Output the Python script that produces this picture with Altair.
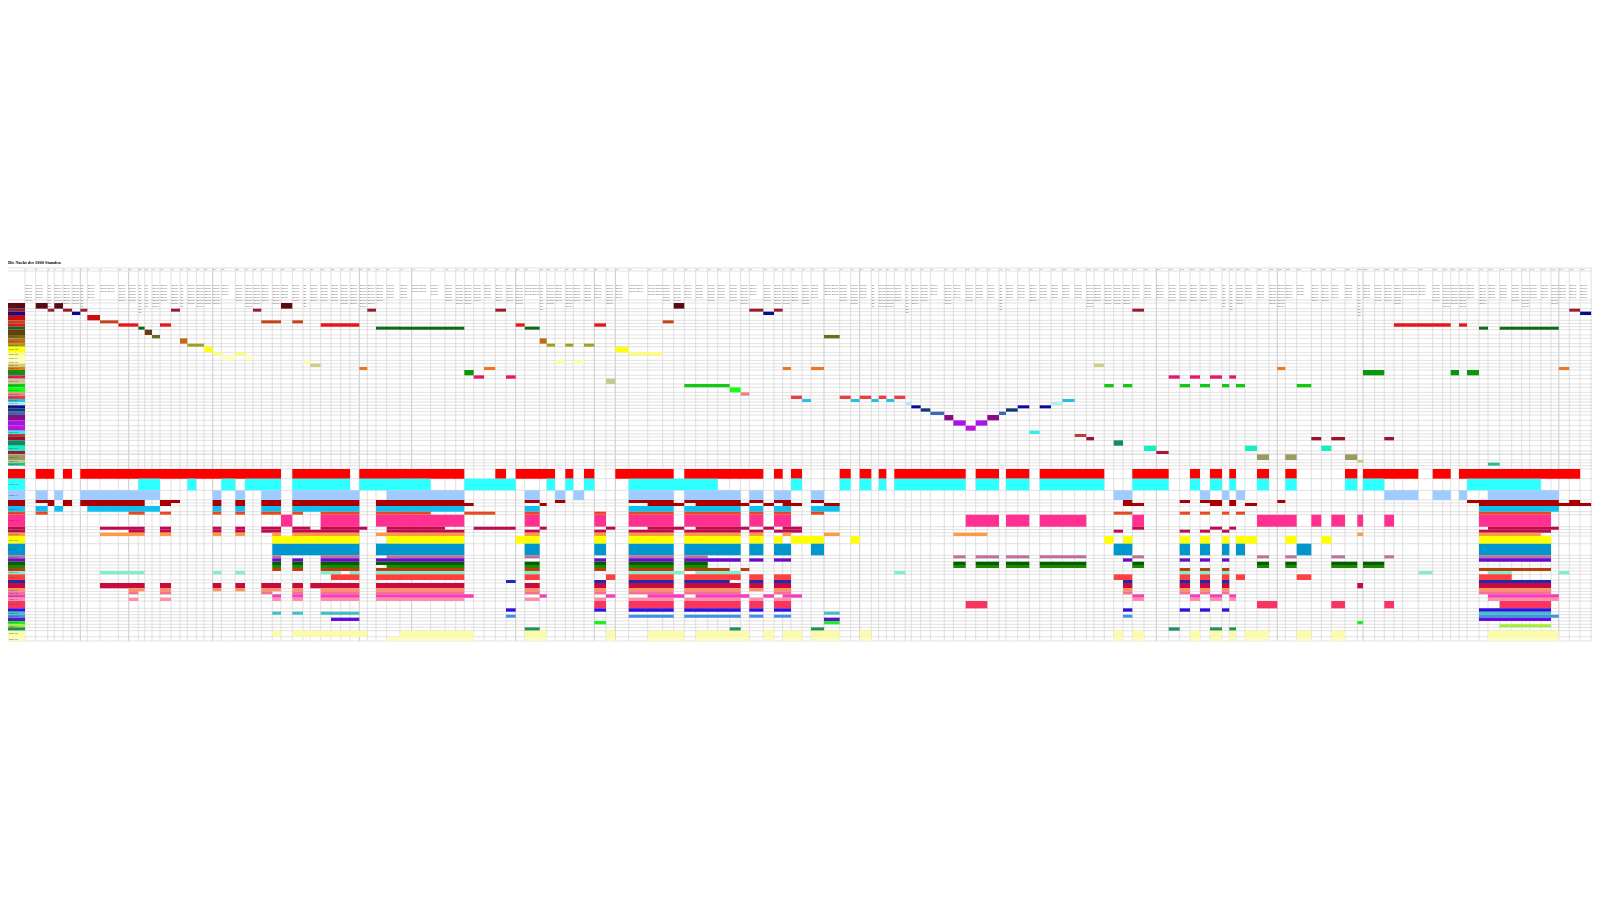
import altair as alt
import pandas as pd

TITLE = "Die Nacht der 1000 Stunden"

# column (scene) boundaries along the timeline
scene_edges = [25, 35.7, 47.7, 54.3, 63, 72, 80.3, 87.3, 100, 118.3, 128.7, 138.3, 144.7, 152, 160, 171, 180, 187.3,
               196.3, 204, 212.7, 221.3, 235.3, 245, 253, 261.3, 272.3, 281, 292.3, 303, 310.3, 320.7, 331, 340.7,
               350, 359.3, 367.3, 376, 386.7, 400, 411.7, 430.7, 445, 455.7, 464.3, 473.7, 484, 495.3, 506, 515.7,
               524.7, 539.7, 546.7, 555, 565.3, 573.3, 584, 594.3, 606, 615.3, 628.7, 647.7, 662.7, 673.7, 684.3,
               695.7, 707.7, 717.7, 729.7, 740.7, 749.3, 763.3, 774, 782.7, 791, 802, 811, 824, 839.7, 850.7, 859.7,
               871.3, 878.7, 886.3, 894.3, 905.3, 911.3, 920.7, 930.3, 944.3, 953.3, 965.7, 975.7, 987.3, 999, 1006,
               1017.7, 1029.3, 1039.7, 1051, 1062.3, 1074.7, 1086.3, 1094, 1104.3, 1113.7, 1123, 1132.3, 1144, 1156.3,
               1168.7, 1179.7, 1190, 1200, 1210, 1222, 1229.3, 1236, 1245, 1257, 1269, 1277.3, 1285.3, 1296.7, 1311.3,
               1321.3, 1331.3, 1345, 1357.3, 1363, 1374.7, 1384.3, 1394, 1402.7, 1418.3, 1432.7, 1442.7, 1450.7, 1459,
               1467, 1479, 1488, 1499.7, 1511.7, 1521.7, 1529.7, 1541, 1552.7, 1561.7, 1573.7, 1586.3, 1599]
major_edges = [80.3, 128.7, 212.7, 359.3, 411.7, 515.7, 594.3, 615.3, 824, 859.7, 1156.3, 1277.3, 1363, 1561.7]

upper_bounds = [144,161,170,180,196,205,215,224,240,250,266,275,292,301,316,326,336,345,361,371,387,397,412,422,432,
                441,451,460,470,480,496,512,527,537,546,556,572,588,597]
upper_colors = ["#5c0a12","#9b1c2e","#0a0a8c","#cc0c0c","#c8431a","#e8161c","#0e6a16","#6b3c12","#6d6d1e","#c46a10",
                "#a0a01c","#ffff14","#ffff70","#ffffc0","#ffffa8","#cfcf80","#f0771e","#0a960a","#e8166c","#c8c890",
                "#14c814","#14ff14","#f08080","#e84040","#28c0e0","#b0f0f0","#0a0aa0","#123a6e","#3c6cb8","#8a0a8a",
                "#aa14e8","#c014e0","#30f0f0","#c03a3a","#a01030","#108c64","#14f0c0","#b01040"]
u = [
 {0:[107,143,163,189,843,877],400:[821,853]},
 {0:[143,163,189,216,241,262,513,540,759,784,1102,1128],400:[286,318,1048,1090,1122,1148],800:[997,1032],1200:[1121,1159]},
 {0:[216,241],400:[1090,1122],1200:[1160,1197]},
 {0:[262,300]},
 {0:[300,355,784,843,877,909],400:[788,821]},
 {0:[355,415,480,513,962,1078],400:[347,374,583,618],1200:[582,752,777,801]},
 {0:[415,434,1128,1200],400:[0,193,374,419],1200:[837,864,899,1085]},
 {0:[434,456]},
 {0:[456,480],800:[72,119]},
 {0:[540,562],400:[419,440]},
 {0:[562,612],400:[440,465,496,520,552,583]},
 {0:[612,638],400:[646,686]},
 {0:[638,664,706,735],400:[686,788]},
 {0:[664,706,735,759]},
 {0:[909,931],400:[465,496,520,552]},
 {0:[931,962],800:[882,913]},
 {0:[1078,1102],400:[252,286,1148,1173],800:[33,72],1200:[231,256,1085,1121]},
 {400:[193,221],1200:[489,553,752,777,801,837]},
 {400:[221,252,318,347],800:[1106,1139,1170,1200],1200:[30,66,88,108]},
 {400:[618,646]},
 {400:[853,989],800:[913,941,969,997,1139,1170],1200:[0,30,66,88,108,135,290,334]},
 {400:[989,1022]},
 {400:[1022,1048]},
 {400:[1173,1200],800:[0,6,119,152,179,214,236,259,283,316]},
 {800:[6,33,152,179,214,236,259,283,787,824]},
 {800:[316,334,753,787]},
 {800:[334,362,653,688,719,753]},
 {800:[362,391,618,653]},
 {800:[391,433,597,618]},
 {800:[433,460,562,597]},
 {800:[460,497,527,562]},
 {800:[497,527]},
 {800:[688,719]},
 {800:[824,859]},
 {800:[859,882],1200:[334,364,394,435,552,582]},
 {800:[941,969]},
 {800:[1032,1069],1200:[135,171,364,394]},
 {800:[1069,1106]},
]

lower_bounds = [13,30,38,47]
lower_colors_top = ["#9a9a60","#c8c880","#20c090"]
t = [
 {1200:[171,207,256,290,435,472]},
 {1200:[472,489]},
 {1200:[864,899]},
]

main_bounds = [57,86,121,150,159,168,185,194,230,239,248,258,281,316,325,335,345,354,363,373,390,399,415,424,433,443,
               453,475,485,494,503,513,523,532,542,560,573]
main_colors = ["#ff0000","#2effff","#9fcbff","#a80000","#a80000","#10c0f0","#e84820","#ff3090","#c00a50","#c00a50",
               "#ff9a40","#ffff00","#0098cc","#c0709c","#6a0ad0","#006000","#208800","#b84010","#80f0c8","#ff4040",
               "#1e2ab0","#c80a3c","#ff9060","#f87090","#f83cc0","#ff90a8","#f83460","#3010e0","#40c0c0","#4090e8",
               "#6010d8","#20f020","#a0f030","#209060","#fbfba8","#fcfcc0"]
m = [
 {0:[107,163,189,216,241,843,877,1048,1078,1200],400:[0,193,286,318,347,465,496,520,552,583,646,821,853,1090,1122,1148,1173,1200],
  800:[0,6,119,152,179,214,236,259,283,497,527,597,618,688,719,914,997,1106,1170,1200],1200:[30,66,88,108,171,207,256,290,435,472,489,655,698,752,777,1159]},
 {0:[415,480,562,589,664,706,735,843,877,1050,1078,1200],400:[0,92,193,347,440,465,496,520,552,583,686,953,1173,1200],
  800:[0,6,119,152,179,214,236,259,283,497,527,597,618,688,719,914,997,1106,1170,1200],1200:[30,66,88,108,171,207,256,290,435,472,489,552,801,1023]},
 {0:[107,143,163,189,241,480,638,664,706,735,784,843,877,1078,1160,1200],400:[0,193,374,419,465,496,520,552,686,821,853,1022,1048,1090,1122,1173],
  800:[33,72,941,997],1200:[0,30,66,88,108,135,552,655,698,752,777,801,864,1085]},
 {0:[107,163,189,216,241,434,480,540,638,664,706,735,784,843,877,1078,1128,1200],400:[0,193,374,419,465,496,686,821,853,1022,1048,1090,1122,1173],
  800:[33,72,969,997,1139,1170],1200:[0,66,88,108,232,256,801,1085,1121,1159]},
 {0:[143,163,189,216,241,434,480,513,638,664,706,735,784,843,877,1078,1128,1200],400:[0,221,419,440,743,853,887,1048,1090,1122,1148,1200],
  800:[0,6,72,119,969,1032],1200:[30,66,88,108,135,171,837,1197]},
 {0:[107,143,163,189,262,480,638,664,706,735,784,843,877,1078,1128,1200],400:[0,193,374,419,686,821,853,1022,1048,1090,1122,1173],
  800:[33,119],1200:[837,1085]},
 {0:[107,143,386,434,480,513,638,664,706,735,784,843,877,909,962,1078,1128,1200],400:[0,92,193,286,374,419,583,618,686,821,853,1022,1048,1090,1122,1173],
  800:[33,72,941,997,1139,1170],1200:[0,30,66,88,108,135,837,1058]},
 {0:[843,877,962,1078,1128,1200],400:[0,193,374,419,583,618,686,821,853,1022,1048,1090,1122,1173],
  800:[497,597,618,688,719,859,997,1032],1200:[171,290,334,364,394,435,472,489,552,582,837,1058]},
 {0:[300,434,480,513,638,664,706,735,784,843,877,931,962,1102,1160,1200],400:[0,133,221,347,419,440,618,646,743,853,887,1048,1090,1122,1148,1200],
  800:[0,6,997,1032],1200:[30,66,88,108,864,1085]},
 {0:[386,434,480,513,638,664,706,735,784,843,877,1078,1160,1200],400:[0,193,374,419,583,618,686,821,853,1022,1048,1090,1122,1200],
  800:[0,6,941,969,1139,1170],1200:[0,30,66,88,837,1058]},
 {0:[300,434,480,513,638,664,706,735,817,843,877,1078,1128,1200],400:[0,193,374,419,583,618,686,821,853,1022,1048,1090,1148,1173],
  800:[72,119,460,562],1200:[472,489,837,1023]},
 {0:[817,1078,1160,1200],400:[0,193,347,419,583,618,686,821,853,1022,1048,1090,1122,1148,1173,1200],
  800:[0,72,152,179,914,941,969,997,1139,1170],1200:[0,30,66,88,108,171,256,290,364,394,837,1058]},
 {0:[817,1078,1128,1200],400:[0,193,374,419,583,618,686,821,853,1022,1048,1090,1122,1173],
  800:[33,72,941,997,1139,1170],1200:[0,30,66,88,108,135,290,334,837,1058]},
 {0:[817,843,962,1078,1158,1200],400:[0,193,374,419,686,821,853,921],
  800:[460,497,527,597,618,688,719,859,997,1032],1200:[171,207,256,290,394,435,552,582,837,1058]},
 {0:[817,843,877,909,962,1078,1128,1200],400:[0,193,583,618,686,821,853,1022,1048,1090,1122,1173],
  800:[969,997,1139,1170],1200:[0,30,66,88,837,1058]},
 {0:[817,843,877,909,962,1078,1128,1200],400:[0,193,374,419,583,618,686,821,853,921],
  800:[460,497,527,597,618,688,719,859,997,1032],1200:[171,207,256,290,394,472,489,552]},
 {0:[817,843,877,909,962,1078,1158,1200],400:[0,193,374,419,583,618,686,821,853,921],
  800:[460,497,527,597,618,688,719,859,997,1032],1200:[171,207,256,290,394,472,489,552]},
 {0:[817,843,877,909,962,1078,1128,1200],400:[0,193,374,419,583,618,686,821,853,989,1022,1048],
  800:[1139,1170],1200:[0,30,66,88,837,1058]},
 {0:[300,434,638,664,706,735,962,1022,1050,1078,1128,1200],400:[0,193,374,419,686,853,887,1022],
  800:[283,316,1139,1170],1200:[0,30,66,88,655,698,864,935,1085,1121]},
 {0:[993,1078,1128,1200],400:[0,193,374,419,618,646,686,821,853,1022,1048,1090,1122,1173],
  800:[941,997,1139,1170],1200:[0,30,66,88,108,135,290,334,837,935]},
 {400:[318,347,583,618,686,821,853,989,1048,1090,1122,1173],800:[969,997,1139,1170],1200:[0,30,66,88,837,1058]},
 {0:[300,434,480,513,638,664,706,735,784,843,877,909,931,1078,1128,1200],400:[0,193,374,419,583,618,686,821,853,1022,1048,1090,1122,1173],
  800:[969,997,1139,1170],1200:[0,30,66,88,472,489,837,1058]},
 {0:[386,434,480,513,638,664,706,735,784,843,877,909,962,1078,1128,1200],400:[0,193,374,419,583,618,686,821,853,1022,1048,1090,1122,1173],
  800:[969,997,1139,1170],1200:[0,30,66,88,837,1058]},
 {0:[386,415,480,513,784,817,877,909,962,1078,1128,1200],400:[0,193,374,419,583,618,686,821,853,1022,1122,1173],
  800:[969,997,1139,1170],1200:[0,30,66,88,837,1058]},
 {0:[817,843,877,909,962,1078,1128,1200],400:[0,221,419,440,618,646,743,853,887,1048,1090,1122,1148,1200],
  800:[0,6,997,1032,1170,1200],1200:[30,66,88,108,864,1085]},
 {0:[386,415,480,513,817,843,877,909,962,1078,1128,1200],400:[0,193,374,419,583,618,686,821,853,1022,1048,1090,1122,1173],
  800:[997,1032,1170,1200],1200:[30,66,88,108,864,1085]},
 {400:[583,618,686,821,853,1022,1048,1090,1122,1173],800:[497,562],1200:[171,232,394,435,552,582,899,1058]},
 {400:[318,347,583,618,686,821,853,1022,1048,1090,1122,1173],800:[969,997,1139,1170],1200:[0,30,66,88,837,1058]},
 {0:[817,843,877,909,962,1078],800:[72,119],1200:[837,1058]},
 {400:[318,347,686,821,853,1022,1048,1090,1122,1173],800:[969,997],1200:[837,1085]},
 {0:[993,1078],800:[72,119],1200:[837,1058]},
 {400:[583,618],800:[72,119],1200:[472,489]},
 {1200:[899,1058]},
 {400:[374,419,989,1022],800:[33,72,1106,1139],1200:[30,66,88,108]},
 {0:[817,843,877,1102],400:[0,221,374,440,618,646,743,853,887,1048,1090,1122,1148,1200],
  800:[0,6,33,119,179,214,941,969,997,1032,1170,1200],1200:[30,66,88,108,135,207,290,334,394,435,864,1085]},
 {0:[1160,1200],400:[0,221,374,440,618,646,743,853,887,1048,1090,1122,1148,1200],
  800:[0,6,33,119,179,214,941,969,997,1032,1170,1200],1200:[30,66,88,108,135,207,290,334,394,435,864,1085]},
]

def snap(v):
    return min(scene_edges, key=lambda e: abs(e - v))

cells, rows = [], []
def add_block(base, bounds, colors, spans):
    for i, col in enumerate(colors):
        y0, y1 = base + bounds[i] / 3, base + bounds[i + 1] / 3
        n = len(rows) + 1
        rows.append(dict(y=y0, y2=y1, color=col, label=f"Rolle {n}", x=8.0, x2=25.0))
        for off, vals in spans[i].items():
            for a, b in zip(vals[0::2], vals[1::2]):
                cells.append(dict(x=snap(off + a / 3), x2=snap(off + b / 3), y=y0, y2=y1, color=col))

add_block(255, upper_bounds, upper_colors, u)
add_block(450, lower_bounds, lower_colors_top, t)
add_block(450, main_bounds, main_colors, m)

row_lines = sorted({round(r["y"], 2) for r in rows} | {round(r["y2"], 2) for r in rows} | {268.0, 271.0, 300.0, 303.0, 469.0})
h_df = pd.DataFrame({"y": row_lines, "x": 8.0, "x2": 1600.0})
v_df = pd.DataFrame({"x": scene_edges, "y": 268.0, "y2": 641.0})
v_df["major"] = v_df["x"].isin(major_edges)

hdr = []
for i, (a, b) in enumerate(zip(scene_edges[:-1], scene_edges[1:])):
    w = b - a
    k = max(3, min(11, round(62 / w)))
    per = max(1, int(w // 7.5))
    word = "Szene" if w >= 7.5 else "Sz."
    hdr.append(dict(x=a + 0.4, n=str(i + 1), txt="\n".join([" ".join([word] * per)] * k), ty=284.5, ny=269.6))
hdr_df = pd.DataFrame(hdr)

# the page leaves 1584 px for the chart: the timeline keeps true scale up to 1540
X = alt.Scale(domain=[8, 1540, 1600], range=[0, 1532, 1584], nice=False, zero=False)
Y = alt.Scale(domain=[708, 8], nice=False, zero=False)
x = alt.X("x:Q", scale=X, axis=None)
y = alt.Y("y:Q", scale=Y, axis=None)

hlines = alt.Chart(h_df).mark_rule(color="#d6d6d6", strokeWidth=0.7).encode(x=x, x2="x2:Q", y=y)
vlines = alt.Chart(v_df).mark_rule(strokeWidth=0.7).encode(
    x=x, y=y, y2="y2:Q",
    color=alt.condition("datum.major", alt.value("#b4b4b4"), alt.value("#d2d2d2")))
bars = alt.Chart(pd.DataFrame(cells)).mark_rect().encode(
    x=x, x2="x2:Q", y=y, y2="y2:Q", color=alt.Color("color:N", scale=None))
left = alt.Chart(pd.DataFrame(rows)).mark_rect().encode(
    x=x, x2="x2:Q", y=y, y2="y2:Q", color=alt.Color("color:N", scale=None))
left_txt = alt.Chart(pd.DataFrame(rows).assign(tx=9.0, ty=lambda d: (d.y + d.y2) / 2)).mark_text(
    fontSize=2.4, align="left", baseline="middle", color="#444444", font="Liberation Sans").encode(
    x=alt.X("tx:Q", scale=X, axis=None), y=alt.Y("ty:Q", scale=Y, axis=None), text="label:N")
hdr_txt = alt.Chart(hdr_df).mark_text(
    fontSize=2.4, lineHeight=3, lineBreak="\n", align="left", baseline="middle", color="#666666", font="Liberation Sans").encode(
    x=x, y=alt.Y("ty:Q", scale=Y, axis=None), text="txt:N")
num_txt = alt.Chart(hdr_df).mark_text(
    fontSize=2.4, align="left", baseline="middle", color="#777777", font="Liberation Sans").encode(
    x=x, y=alt.Y("ny:Q", scale=Y, axis=None), text="n:N")
title = alt.Chart(pd.DataFrame({"x": [8.0], "y": [263.0], "t": [TITLE]})).mark_text(
    fontSize=4.4, fontWeight="bold", align="left", baseline="middle", color="#000000", font="Liberation Serif").encode(
    x=x, y=y, text="t:N")

chart = alt.layer(vlines, hlines, bars, left, left_txt, hdr_txt, num_txt, title).properties(
    width=1584, height=700, padding=0, background="white",
    autosize=alt.AutoSizeParams(type="none")
).configure_view(stroke=None)

chart.save("out.html", embed_options={"renderer": "svg", "actions": False})
